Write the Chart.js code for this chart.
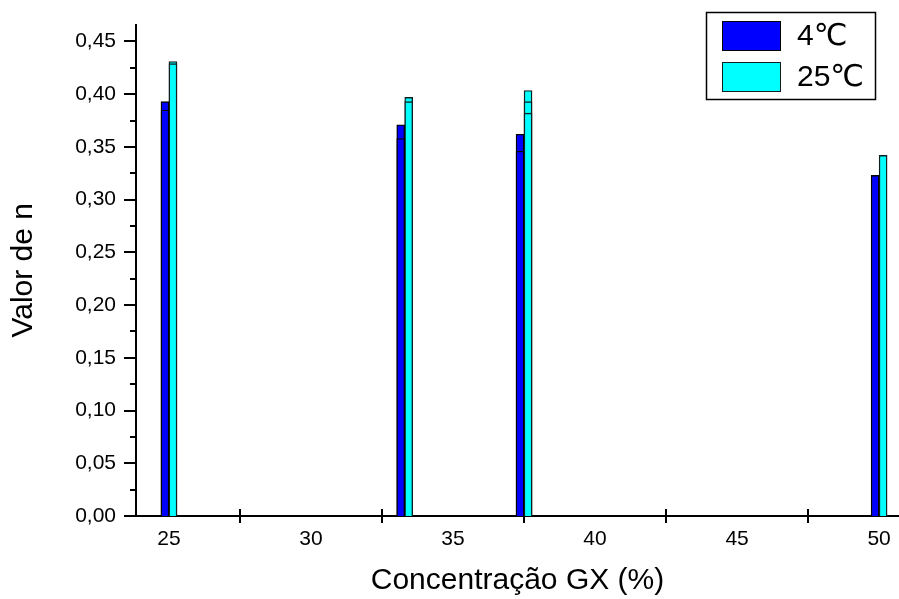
<!DOCTYPE html>
<html lang="pt">
<head>
<meta charset="utf-8">
<title>Valor de n</title>
<script src="https://cdn.jsdelivr.net/npm/chart.js@4/dist/chart.umd.min.js"></script>
<style>
  html, body { margin: 0; padding: 0; background: #fff; }
  #caixa { width: 899px; height: 599px; position: relative; }
</style>
</head>
<body>
<div id="caixa"><canvas id="grafico"></canvas></div>
<script>
// concentrações medidas (%) e valores de n para cada temperatura
const concentracoes = [25, 33.3, 37.5, 50];
const n4C = [0.393, 0.371, 0.362, 0.323];
const n4CRep2 = [0.385, 0.358, 0.346, null];
const n25C = [0.431, 0.397, 0.4035, 0.342];
const n25CRep2 = [0.429, 0.393, 0.393, null];
const n25CRep3 = [null, null, 0.382, null];

const rotulosX = [25, 30, 35, 40, 45, 50];
const marcasX = [27.5, 32.5, 37.5, 42.5, 47.5];
const rotulosY = [0, 0.05, 0.10, 0.15, 0.20, 0.25, 0.30, 0.35, 0.40, 0.45];

const CORES = {
  frio: '#0000ff',
  quente: '#00ffff',
  bordaFrio: '#000000',
  bordaQuente: '#102020'
};

const FONTE = '"Liberation Sans", Arial, "DejaVu Sans", sans-serif';

function pontos(valores) {
  return concentracoes
    .map((c, i) => ({ x: c, y: valores[i] }))
    .filter((p) => p.y !== null);
}

function serie(label, valores, pilha, cor, borda) {
  return {
    label: label,
    data: pontos(valores),
    stack: pilha,
    backgroundColor: cor,
    borderColor: borda,
    borderWidth: 1.4,
    borderSkipped: 'start',
    barThickness: 8
  };
}

// marcas dos eixos no estilo Origin (maiores/menores no y, cruzadas no x)
const marcasEixos = {
  id: 'marcasEixos',
  beforeDatasetsDraw(chart) {
    const ctx = chart.ctx;
    const x = chart.scales.x;
    const y = chart.scales.y;
    const area = chart.chartArea;
    ctx.save();
    ctx.strokeStyle = '#000';
    ctx.lineWidth = 2;
    ctx.beginPath();
    for (let k = 0; k <= 18; k++) {
      const py = Math.round(y.getPixelForValue(k * 0.025));
      const comp = k % 2 === 0 ? 12 : 6;
      ctx.moveTo(area.left - comp, py);
      ctx.lineTo(area.left, py);
    }
    marcasX.forEach((v) => {
      const px = Math.round(x.getPixelForValue(v));
      ctx.moveTo(px, area.bottom - 7);
      ctx.lineTo(px, area.bottom + 7);
    });
    ctx.stroke();
    ctx.restore();
  }
};

// legenda com moldura dentro da área do gráfico
const legendaCaixa = {
  id: 'legendaCaixa',
  afterDraw(chart) {
    const ctx = chart.ctx;
    const itens = chart.data.datasets.filter((d) => d.label);
    ctx.save();
    ctx.lineWidth = 1.5;
    ctx.strokeStyle = '#000';
    ctx.fillStyle = '#fff';
    ctx.fillRect(706, 12, 170, 88);
    ctx.strokeRect(706.5, 12.5, 169, 87);
    ctx.font = '30px ' + FONTE;
    ctx.textBaseline = 'middle';
    itens.forEach((d, i) => {
      const topo = 21 + i * 41;
      ctx.fillStyle = d.backgroundColor;
      ctx.fillRect(722, topo, 59, 30);
      ctx.lineWidth = 1;
      ctx.strokeStyle = d.borderColor;
      ctx.strokeRect(722.5, topo + 0.5, 58, 29);
      ctx.fillStyle = '#000';
      ctx.fillText(d.label, 797, topo + 16);
    });
    ctx.restore();
  }
};

new Chart(document.getElementById('grafico'), {
  type: 'bar',
  data: {
    datasets: [
      serie('', n4CRep2, 'frio', CORES.frio, CORES.bordaFrio),
      serie('', n25CRep3, 'quente', CORES.quente, CORES.bordaQuente),
      serie('', n25CRep2, 'quente', CORES.quente, CORES.bordaQuente),
      serie('4℃', n4C, 'frio', CORES.frio, CORES.bordaFrio),
      serie('25℃', n25C, 'quente', CORES.quente, CORES.bordaQuente)
    ]
  },
  options: {
    responsive: true,
    maintainAspectRatio: false,
    animation: false,
    layout: { padding: { top: 12, right: 0, bottom: 0, left: 0 } },
    plugins: {
      legend: { display: false },
      tooltip: { enabled: false }
    },
    scales: {
      x: {
        type: 'linear',
        offset: false,
        min: 23.84,
        max: 50.7,
        afterBuildTicks: (escala) => { escala.ticks = rotulosX.map((v) => ({ value: v })); },
        afterFit: (escala) => { escala.height = 83; },
        grid: { display: false },
        border: { display: true, color: '#000', width: 2 },
        ticks: {
          color: '#000',
          padding: 3,
          maxRotation: 0,
          font: { family: FONTE, size: 21 },
          callback: (v) => String(v)
        },
        title: {
          display: true,
          text: 'Concentração GX (%)',
          color: '#000',
          padding: { top: 0, bottom: 0 },
          font: { family: FONTE, size: 30, lineHeight: 1.2 }
        }
      },
      y: {
        stacked: false,
        min: 0,
        max: 0.466,
        afterBuildTicks: (escala) => { escala.ticks = rotulosY.map((v) => ({ value: v })); },
        afterFit: (escala) => { escala.width = 136; },
        grid: { display: false },
        border: { display: true, color: '#000', width: 2 },
        ticks: {
          color: '#000',
          padding: 12,
          font: { family: FONTE, size: 21 },
          callback: (v) => v.toFixed(2).replace('.', ',')
        },
        title: {
          display: true,
          text: 'Valor de n',
          color: '#000',
          padding: { top: 6, bottom: 0 },
          font: { family: FONTE, size: 30, lineHeight: 1.2 }
        }
      }
    }
  },
  plugins: [marcasEixos, legendaCaixa]
});
</script>
</body>
</html>
